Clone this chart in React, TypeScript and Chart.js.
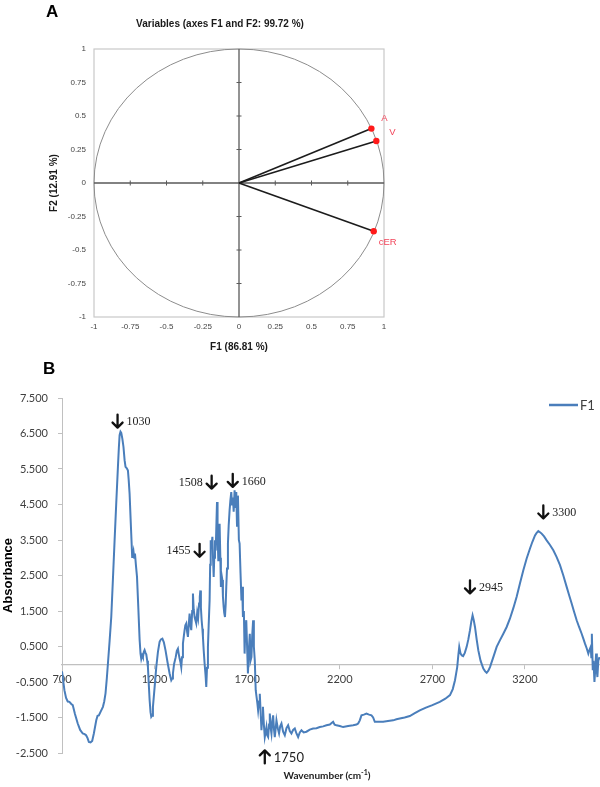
import React, { useEffect, useRef } from 'react';
import { Chart, registerables } from 'chart.js';

Chart.register(...registerables);

// ---------- Panel A: PCA correlation circle ----------
const pcaVariables = ['A', 'V', 'cER'];
const pcaF1 = [0.913, 0.947, 0.929];
const pcaF2 = [0.406, 0.313, -0.36];
const pcaTicks = [-1, -0.75, -0.5, -0.25, 0, 0.25, 0.5, 0.75, 1];

// ---------- Panel B: F1 loading spectrum ----------
const wavenumbers = [
  700, 706, 713, 722, 731, 740, 750, 758, 770, 785, 798, 812, 822, 830, 838, 845, 854, 863, 872, 885,
  892, 899, 910, 921, 928, 935, 942, 948, 957, 966, 975, 984, 993, 1002, 1007, 1011, 1016, 1020, 1026, 1032,
  1038, 1043, 1050, 1056, 1060, 1065, 1072, 1079, 1083, 1086, 1090, 1094, 1099, 1105, 1112, 1119, 1124, 1128, 1133, 1137,
  1142, 1146, 1151, 1155, 1160, 1164, 1168, 1173, 1178, 1182, 1186, 1191, 1200, 1209, 1218, 1227, 1234, 1242, 1250, 1259,
  1270, 1281, 1290, 1295, 1299, 1305, 1314, 1320, 1326, 1330, 1335, 1340, 1344, 1348, 1353, 1358, 1362, 1366, 1371, 1376,
  1380, 1385, 1389, 1394, 1398, 1403, 1407, 1411, 1416, 1420, 1425, 1430, 1435, 1440, 1444, 1447, 1450, 1454, 1458, 1461,
  1465, 1470, 1475, 1479, 1483, 1488, 1492, 1497, 1500, 1503, 1507, 1512, 1516, 1519, 1522, 1526, 1530, 1534, 1537, 1540,
  1544, 1547, 1551, 1555, 1558, 1562, 1566, 1569, 1573, 1576, 1580, 1584, 1587, 1591, 1596, 1600, 1605, 1609, 1614, 1618,
  1623, 1627, 1632, 1636, 1641, 1645, 1650, 1655, 1659, 1664, 1669, 1673, 1677, 1682, 1686, 1690, 1695, 1700, 1704, 1709,
  1714, 1718, 1723, 1727, 1732, 1736, 1741, 1746, 1750, 1755, 1759, 1764, 1768, 1773, 1777, 1781, 1785, 1790, 1795, 1800,
  1804, 1808, 1813, 1818, 1822, 1827, 1831, 1836, 1840, 1845, 1849, 1854, 1858, 1865, 1872, 1878, 1885, 1894, 1903, 1912,
  1921, 1930, 1939, 1948, 1957, 1966, 1975, 1984, 1993, 2005, 2020, 2038, 2056, 2074, 2092, 2110, 2128, 2146, 2164, 2172,
  2182, 2200, 2218, 2245, 2272, 2290, 2299, 2308, 2317, 2330, 2344, 2358, 2371, 2380, 2389, 2410, 2434, 2460, 2488, 2506,
  2524, 2550, 2578, 2605, 2632, 2665, 2700, 2740, 2770, 2795, 2810, 2822, 2834, 2840, 2845, 2852, 2859, 2866, 2875, 2885,
  2894, 2903, 2910, 2917, 2923, 2930, 2939, 2948, 2960, 2975, 2985, 2993, 3002, 3011, 3029, 3047, 3065, 3083, 3101, 3119,
  3137, 3155, 3173, 3191, 3209, 3227, 3240, 3254, 3263, 3272, 3281, 3290, 3303, 3317, 3335, 3353, 3371, 3389, 3407, 3425,
  3438, 3452, 3465, 3479, 3492, 3506, 3515, 3524, 3533, 3542, 3548, 3555, 3558, 3561, 3566, 3570, 3575, 3580, 3584, 3588,
  3591, 3596, 3602,
];
const absorbance = [
  -0.2, -0.45, -0.73, -0.95, -1.05, -1.06, -1.12, -1.15, -1.4, -1.67, -1.85, -1.95, -1.97, -2.0, -2.08, -2.19, -2.2, -2.16, -1.95, -1.58,
  -1.45, -1.44, -1.32, -1.2, -1.05, -0.82, -0.4, 0.02, 0.65, 1.33, 2.4, 3.49, 4.55, 5.56, 6.1, 6.45, 6.55, 6.52, 6.35, 6.12,
  5.75, 5.56, 5.52, 5.46, 5.2, 4.8, 3.9, 3.02, 3.1, 3.18, 3.0, 3.12, 2.8, 2.46, 1.6, 0.7, 0.3, 0.15, 0.25, 0.2,
  0.35, 0.4, 0.32, 0.28, 0.1, -0.08, -0.5, -1.0, -1.35, -1.48, -1.45, -1.2, -0.65, -0.08, 0.35, 0.63, 0.7, 0.72, 0.62, 0.39,
  0.05, -0.26, -0.45, -0.4, -0.26, 0.0, 0.2, 0.38, 0.44, 0.3, 0.16, 0.05, -0.08, 0.2, 0.58, 0.8, 0.96, 1.1, 1.15, 0.9,
  0.77, 1.15, 1.43, 1.1, 0.96, 1.5, 1.99, 1.55, 1.33, 1.25, 1.15, 1.45, 1.3, 1.71, 1.9, 2.08, 1.6, 1.24, 1.0, 0.77,
  0.4, 0.02, -0.3, -0.64, -0.1, 0.49, 1.1, 1.8, 2.8, 3.49, 3.3, 3.59, 2.9, 2.46, 3.0, 3.49, 3.2, 4.0, 4.57, 3.7,
  2.93, 3.4, 3.96, 3.0, 2.18, 2.5, 2.37, 1.9, 1.61, 1.45, 1.33, 1.7, 2.18, 2.7, 3.4, 3.9, 4.34, 4.6, 4.85, 4.5,
  4.7, 4.3, 4.9, 4.4, 4.85, 3.9, 4.75, 3.5, 3.4, 2.56, 1.8, 2.18, 1.33, 1.5, 0.3, 1.0, 1.24, 0.4, -0.26, 0.4,
  0.86, 0.1, 0.2, 0.8, 1.24, 0.5, 0.11, -0.73, -0.9, -1.1, -1.3, -1.05, -0.83, -1.4, -1.86, -1.5, -1.2, -1.7, -2.05, -1.9,
  -1.77, -2.0, -2.05, -1.7, -1.39, -1.8, -1.95, -1.6, -1.44, -1.85, -2.05, -1.8, -1.58, -1.8, -1.95, -1.75, -1.67, -1.9, -2.0, -1.8,
  -1.72, -1.88, -1.95, -1.85, -1.81, -1.95, -2.05, -1.92, -1.86, -1.92, -1.9, -1.84, -1.81, -1.8, -1.77, -1.75, -1.72, -1.7, -1.62, -1.7,
  -1.72, -1.74, -1.77, -1.74, -1.72, -1.7, -1.67, -1.58, -1.44, -1.42, -1.39, -1.42, -1.44, -1.5, -1.62, -1.62, -1.62, -1.6, -1.58, -1.55,
  -1.53, -1.5, -1.46, -1.38, -1.3, -1.22, -1.15, -1.06, -0.97, -0.87, -0.7, -0.45, -0.08, 0.25, 0.49, 0.3, 0.25, 0.23, 0.32, 0.49,
  0.7, 0.96, 1.2, 1.38, 1.25, 1.05, 0.7, 0.39, 0.1, -0.12, -0.2, -0.24, -0.18, -0.08, 0.2, 0.49, 0.68, 0.86, 1.05, 1.29,
  1.58, 1.9, 2.28, 2.65, 2.98, 3.26, 3.45, 3.63, 3.7, 3.75, 3.72, 3.68, 3.6, 3.49, 3.36, 3.21, 3.02, 2.79, 2.5, 2.18,
  1.95, 1.71, 1.48, 1.24, 1.05, 0.86, 0.72, 0.58, 0.45, 0.3, 0.4, 0.49, 0.2, 0.86, -0.17, 0.1, -0.5, -0.1, 0.3, -0.2,
  -0.36, 0.1, 0.2,
];
const xTicksB = [700, 1200, 1700, 2200, 2700, 3200];
const yTicksB = [-2.5, -1.5, -0.5, 0.5, 1.5, 2.5, 3.5, 4.5, 5.5, 6.5, 7.5];

// peak annotations (arrow placed at wavenumber / absorbance)
const peakLabels = ['1030', '1508', '1660', '1455', '2945', '3300', '1750'];
const peakArrowX = [1000, 1508, 1622, 1443, 2903, 3299, 1795];
const peakArrowY = [6.85, 5.13, 5.18, 3.21, 2.18, 4.29, -2.61];
const peakDirection = ['down', 'down', 'down', 'down', 'down', 'down', 'up'];
const peakTextSide = ['right', 'left', 'right', 'left', 'right', 'right', 'right'];

const SANS = '"Liberation Sans", Arial, sans-serif';
const CALIBRI = 'Lato, "Liberation Sans", sans-serif';
const SERIF = '"Liberation Serif", "DejaVu Serif", serif';

const pcaDecorPlugin = {
  id: 'pcaDecor',
  beforeDatasetsDraw(chart: any) {
    const { ctx, chartArea, scales } = chart;
    const x = scales.x;
    const y = scales.y;
    const cx = x.getPixelForValue(0);
    const cy = y.getPixelForValue(0);
    const rx = x.getPixelForValue(1) - cx;
    const ry = cy - y.getPixelForValue(1);
    ctx.save();
    // frame
    ctx.strokeStyle = '#c9c9c9';
    ctx.lineWidth = 1.2;
    ctx.strokeRect(chartArea.left, chartArea.top, chartArea.right - chartArea.left, chartArea.bottom - chartArea.top);
    // unit circle
    ctx.strokeStyle = '#8c8c8c';
    ctx.lineWidth = 1;
    ctx.beginPath();
    ctx.ellipse(cx, cy, rx, ry, 0, 0, Math.PI * 2);
    ctx.stroke();
    // cross axes
    ctx.strokeStyle = '#5a5a5a';
    ctx.lineWidth = 1.3;
    ctx.beginPath();
    ctx.moveTo(chartArea.left, cy);
    ctx.lineTo(chartArea.right, cy);
    ctx.moveTo(cx, chartArea.top);
    ctx.lineTo(cx, chartArea.bottom);
    ctx.stroke();
    ctx.lineWidth = 1;
    ctx.beginPath();
    pcaTicks.forEach((v) => {
      if (v === 0 || Math.abs(v) === 1) return;
      const px = x.getPixelForValue(v);
      ctx.moveTo(px, cy - 2.5);
      ctx.lineTo(px, cy + 2.5);
      const py = y.getPixelForValue(v);
      ctx.moveTo(cx - 2.5, py);
      ctx.lineTo(cx + 2.5, py);
    });
    ctx.stroke();
    ctx.restore();
  },
  afterDatasetsDraw(chart: any) {
    const { ctx, scales } = chart;
    const offsets = [
      [13, -10],
      [16, -9],
      [14, 11],
    ];
    ctx.save();
    ctx.fillStyle = '#f2455a';
    ctx.font = `9.5px ${SANS}`;
    ctx.textAlign = 'center';
    ctx.textBaseline = 'middle';
    pcaVariables.forEach((name, i) => {
      const px = scales.x.getPixelForValue(pcaF1[i]);
      const py = scales.y.getPixelForValue(pcaF2[i]);
      ctx.fillText(name, px + offsets[i][0], py + offsets[i][1]);
    });
    ctx.restore();
  },
};

const spectrumDecorPlugin = {
  id: 'spectrumDecor',
  afterDraw(chart: any) {
    const { ctx, scales, chartArea } = chart;
    ctx.save();
    // peak annotations
    peakLabels.forEach((label, i) => {
      const px = scales.x.getPixelForValue(peakArrowX[i]);
      const py = scales.y.getPixelForValue(peakArrowY[i]);
      const up = peakDirection[i] === 'up';
      const h = 6.5;
      const tip = up ? py - h : py + h;
      const tail = up ? py + h : py - h;
      const back = up ? tip + 5 : tip - 5;
      ctx.strokeStyle = '#111';
      ctx.lineWidth = 2.3;
      ctx.lineCap = 'round';
      ctx.lineJoin = 'round';
      ctx.beginPath();
      ctx.moveTo(px, tail);
      ctx.lineTo(px, tip);
      ctx.moveTo(px - 5, back);
      ctx.lineTo(px, tip);
      ctx.lineTo(px + 5, back);
      ctx.stroke();
      ctx.fillStyle = '#222';
      ctx.font = up ? `13px ${CALIBRI}` : `12px ${SERIF}`;
      ctx.textBaseline = 'middle';
      if (peakTextSide[i] === 'left') {
        ctx.textAlign = 'right';
        ctx.fillText(label, px - 9, py + 1);
      } else {
        ctx.textAlign = 'left';
        ctx.fillText(label, px + 9, py + 1);
      }
    });
    // legend
    const ds = chart.data.datasets[0];
    const ly = chartArea.top + 7;
    const lx = chartArea.right - 51;
    ctx.strokeStyle = ds.borderColor;
    ctx.lineWidth = 2.5;
    ctx.lineCap = 'butt';
    ctx.beginPath();
    ctx.moveTo(lx, ly);
    ctx.lineTo(lx + 29, ly);
    ctx.stroke();
    ctx.fillStyle = '#404040';
    ctx.font = `13px ${CALIBRI}`;
    ctx.textAlign = 'left';
    ctx.textBaseline = 'middle';
    ctx.fillText(ds.label, lx + 31, ly + 1);
    ctx.restore();
  },
};

export default function App() {
  const refA = useRef<HTMLCanvasElement>(null);
  const refB = useRef<HTMLCanvasElement>(null);

  useEffect(() => {
    const chartA = new Chart(refA.current as HTMLCanvasElement, {
      type: 'scatter',
      data: {
        datasets: pcaVariables.map((name, i) => ({
          label: name,
          data: [
            { x: 0, y: 0 },
            { x: pcaF1[i], y: pcaF2[i] },
          ],
          showLine: true,
          borderColor: '#1c1c1c',
          borderWidth: 1.6,
          pointRadius: [0, 3.2],
          pointBackgroundColor: '#ff1a1a',
          pointBorderColor: '#ff1a1a',
          pointBorderWidth: 0,
        })),
      },
      options: {
        responsive: false,
        animation: false,
        layout: { padding: { top: 49, right: 216, bottom: 0, left: 0 } },
        plugins: { legend: { display: false }, tooltip: { enabled: false } },
        scales: {
          x: {
            type: 'linear',
            min: -1,
            max: 1,
            afterBuildTicks: (s: any) => {
              s.ticks = pcaTicks.map((v) => ({ value: v }));
            },
            afterFit: (s: any) => {
              s.height = 43;
            },
            ticks: {
              autoSkip: false,
              maxRotation: 0,
              padding: 5,
              color: '#444',
              font: { family: SANS, size: 8 },
              callback: (v: any) => String(v),
            },
            grid: { display: false, drawTicks: false },
            border: { display: false },
            title: {
              display: true,
              text: 'F1 (86.81 %)',
              color: '#1a1a1a',
              font: { family: SANS, size: 10, weight: 'bold' },
              padding: { top: 0, bottom: 7 },
            },
          },
          y: {
            type: 'linear',
            min: -1,
            max: 1,
            afterBuildTicks: (s: any) => {
              s.ticks = pcaTicks.map((v) => ({ value: v }));
            },
            afterFit: (s: any) => {
              s.width = 94;
            },
            ticks: {
              autoSkip: false,
              padding: 8,
              color: '#444',
              font: { family: SANS, size: 8 },
              callback: (v: any) => String(v),
            },
            grid: { display: false, drawTicks: false },
            border: { display: false },
            title: {
              display: true,
              text: 'F2 (12.91 %)',
              color: '#1a1a1a',
              font: { family: SANS, size: 10, weight: 'bold' },
              padding: { top: 48, bottom: 0 },
            },
          },
        },
      },
      plugins: [pcaDecorPlugin],
    } as any);

    const chartB = new Chart(refB.current as HTMLCanvasElement, {
      type: 'scatter',
      data: {
        datasets: [
          {
            label: 'F1',
            data: wavenumbers.map((w, i) => ({ x: w, y: absorbance[i] })),
            showLine: true,
            borderColor: '#4a7ebb',
            borderWidth: 2,
            pointRadius: 0,
            tension: 0,
          },
        ],
      },
      options: {
        responsive: false,
        animation: false,
        layout: { padding: { top: 38, right: 0, bottom: 34, left: 0 } },
        plugins: { legend: { display: false }, tooltip: { enabled: false } },
        scales: {
          x: {
            type: 'linear',
            position: { y: 0 },
            min: 700,
            max: 3605,
            afterBuildTicks: (s: any) => {
              s.ticks = xTicksB.map((v) => ({ value: v }));
            },
            ticks: {
              autoSkip: false,
              maxRotation: 0,
              padding: 5,
              color: '#404040',
              font: { family: CALIBRI, size: 11 },
              callback: (v: any) => String(v),
            },
            grid: { drawOnChartArea: false, drawTicks: true, tickLength: 4, color: '#c0c0c0' },
            border: { display: true, color: '#c0c0c0', width: 1.2 },
          },
          y: {
            type: 'linear',
            position: 'left',
            min: -2.5,
            max: 7.5,
            afterBuildTicks: (s: any) => {
              s.ticks = yTicksB.map((v) => ({ value: v }));
            },
            afterFit: (s: any) => {
              s.width = 62;
            },
            ticks: {
              autoSkip: false,
              padding: 10,
              color: '#404040',
              font: { family: CALIBRI, size: 11 },
              callback: (v: any) => Number(v).toFixed(3),
            },
            grid: { drawOnChartArea: false, drawTicks: true, tickLength: 4, color: '#c0c0c0' },
            border: { display: true, color: '#c0c0c0', width: 1 },
            title: {
              display: true,
              text: 'Absorbance',
              color: '#000',
              font: { family: SANS, size: 13, weight: 'bold' },
              padding: { top: 1, bottom: 0 },
            },
          },
        },
      },
      plugins: [spectrumDecorPlugin],
    } as any);

    return () => {
      chartA.destroy();
      chartB.destroy();
    };
  }, []);

  return (
    <div
      style={{
        position: 'absolute',
        left: 0,
        top: 0,
        width: 600,
        height: 787,
        background: '#fff',
        overflow: 'hidden',
      }}
    >
      <canvas
        ref={refA}
        width={600}
        height={360}
        style={{ position: 'absolute', left: 0, top: 0, width: 600, height: 360 }}
      />
      <canvas
        ref={refB}
        width={600}
        height={427}
        style={{ position: 'absolute', left: 0, top: 360, width: 600, height: 427 }}
      />
      <div
        style={{
          position: 'absolute',
          left: 46,
          top: 3,
          fontFamily: SANS,
          fontWeight: 'bold',
          fontSize: 17,
          lineHeight: '17px',
        }}
      >
        A
      </div>
      <div
        style={{
          position: 'absolute',
          left: 0,
          width: 440,
          top: 18,
          textAlign: 'center',
          fontFamily: SANS,
          fontWeight: 'bold',
          fontSize: 10,
          lineHeight: '12px',
          color: '#1a1a1a',
        }}
      >
        Variables (axes F1 and F2: 99.72 %)
      </div>
      <div
        style={{
          position: 'absolute',
          left: 43,
          top: 360,
          fontFamily: SANS,
          fontWeight: 'bold',
          fontSize: 17,
          lineHeight: '17px',
        }}
      >
        B
      </div>
      <div
        style={{
          position: 'absolute',
          left: 227,
          width: 200,
          top: 769,
          textAlign: 'center',
          fontFamily: CALIBRI,
          fontWeight: 'bold',
          fontSize: 10,
          lineHeight: '12px',
          color: '#222',
        }}
      >
        Wavenumber (cm<sup style={{ fontSize: 7, lineHeight: 0 }}>-1</sup>)
      </div>
    </div>
  );
}
